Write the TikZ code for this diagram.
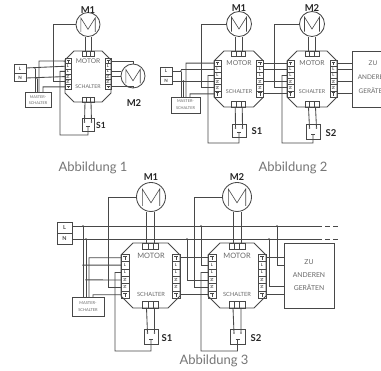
\documentclass[tikz,border=0pt]{standalone}
\usepackage{fontspec}
\setmainfont{Lato}
\definecolor{wire}{HTML}{484848}
\definecolor{soft}{HTML}{686868}
\definecolor{capt}{HTML}{767676}
\tikzset{
  wr/.style={draw=wire,line width=0.85pt,line join=miter},
  fine/.style={draw=wire,line width=0.55pt},
  panelbox/.style={draw=wire,line width=0.85pt,inner sep=0pt,fill=none},
  caption/.style={text=capt,font=\fontsize{13}{15}\selectfont,inner sep=0pt},
  lbl/.style={text=black!85,font=\fontsize{9.5}{11}\selectfont\bfseries,inner sep=0pt},
  inbox/.style={text=soft,inner sep=0pt,align=center},
  jdot/.style={fill=wire,draw=none,circle,minimum size=1.6pt,inner sep=0pt},
  motorc/.style={circle,draw=wire,line width=0.85pt,inner sep=0pt},
}
\newcommand{\ctrlbox}[9]{%
  \def\nm{#1}\def\xl{#2}\def\xr{#3}\def\yt{#4}\def\yb{#5}\def\ch{#6}\def\bw{#7}\def\bt{#8}\def\bb{#9}%
  \ctrlrest}
\newcommand{\ctrlrest}[2]{%
  \pgfmathsetmacro\cx{(\xl+\xr)/2}%
  \pgfmathsetmacro\dy{(\bb-\bt)/6}%
  \draw[wr] (\xl+\ch,\yt) -- (\xr-\ch,\yt) -- (\xr,\yt+\ch) -- (\xr,\yb-\ch) -- (\xr-\ch,\yb) -- (\xl+\ch,\yb) -- (\xl,\yb-\ch) -- (\xl,\yt+\ch) -- cycle;
  \foreach \i in {1,...,6}{%
    \pgfmathsetmacro\yy{\bt+(\i-0.5)*\dy}%
    \coordinate (\nm-L\i) at (\xl,\yy);
    \coordinate (\nm-R\i) at (\xr,\yy);
  }
  \foreach \bx in {\xl,\xr-\bw}{%
    \draw[fine] (\bx,\bt) rectangle (\bx+\bw,\bb);
    \foreach \i in {1,...,5}{\draw[fine] (\bx,\bt+\i*\dy) -- (\bx+\bw,\bt+\i*\dy);}
    \foreach \i/\tx/\rt in {2/L/0,3/L/0,4/N/90,5/N/90}{%
      \node[inner sep=0pt,text=wire,rotate=\rt,font=\fontsize{4}{4}\selectfont\bfseries] at (\bx+\bw/2,\bt+\i*\dy-\dy/2) {\tx};}
    \foreach \i in {1,6}{%
      \draw[fine] (\bx+\bw*0.25,\bt+\i*\dy-\dy*0.7) -- (\bx+\bw*0.75,\bt+\i*\dy-\dy*0.7) (\bx+\bw/2,\bt+\i*\dy-\dy*0.7) -- (\bx+\bw/2,\bt+\i*\dy-\dy*0.2);}
  }
  \foreach \by in {\yt,\yb-#2}{%
    \draw[fine] (\cx-#1,\by) rectangle (\cx+#1,\by+#2);
    \foreach \f in {-0.33,0.33}{\draw[fine] (\cx+\f*#1,\by) -- (\cx+\f*#1,\by+#2);}
  }
  \coordinate (\nm-T1) at (\cx-#1*0.5,\yt);
  \coordinate (\nm-T2) at (\cx+#1*0.5,\yt);
  \coordinate (\nm-B1) at (\cx-#1*0.5,\yb);
  \coordinate (\nm-B2) at (\cx+#1*0.5,\yb);
}
\newcommand{\motorsym}[4]{%
  \node[motorc,minimum size=#4*2pt] (#1) at (#2,#3) {};
  \draw[wr,line width=0.6pt] (#2-#4*0.6,#3+#4*0.62) -- (#2-#4*0.6,#3-#4*0.55) -- (#2,#3+#4*0.4) -- (#2+#4*0.6,#3-#4*0.55) -- (#2+#4*0.6,#3+#4*0.62);
}
\newcommand{\switchsym}[5]{%
  \node[panelbox,minimum width=#3pt-#2pt,minimum height=#5pt-#4pt] (#1) at ({(#2+#3)/2},{(#4+#5)/2}) {};
  \node[jdot] (#1-a) at ({(#2+#3)/2-3.5},#4+4) {};
  \node[jdot] (#1-b) at ({(#2+#3)/2+3.5},#4+4) {};
  \coordinate (#1-c) at ({(#2+#3)/2},#5-4);
  \draw[fine] ({(#2+#3)/2-2},#5-5) -- ({(#2+#3)/2+2},#5-5);
}
\begin{document}
\begin{tikzpicture}[x=1pt,y=-1pt]
\useasboundingbox[fill=white] (0,0) rectangle (381,371);
\clip (0,0) rectangle (381,371);

%%%%% Abbildung 1
\motorsym{am1}{88}{24.5}{12}
\motorsym{am2}{133}{76}{12}
\node[lbl] at (88,10) {M1};
\node[lbl] at (134,103) {M2};
\ctrlbox{a}{65}{111}{51}{102}{9}{6}{58.5}{89.5}{6}{5}
\node[inbox,font=\fontsize{6.6}{8}\selectfont] at (88,61.5) {MOTOR};
\node[inbox,font=\fontsize{5.2}{6}\selectfont] at (88,87) {SCHALTER};
\node[panelbox,minimum width=12pt,minimum height=17pt] (aln) at (20,72.5) {};
\draw[wr] (14,73) -- (26,73);
\node[text=wire,font=\fontsize{4.5}{5}\selectfont\bfseries,inner sep=0] at (20,68.5) {L};
\node[text=wire,font=\fontsize{4.5}{5}\selectfont\bfseries,inner sep=0] at (20,77.5) {N};
\node[panelbox,minimum width=26pt,minimum height=14.5pt,inbox,font=\fontsize{3.8}{6}\selectfont] (ams) at (38,100) {MASTER-\\SCHALTER};
\switchsym{as}{82}{94}{118}{131}
\node[lbl,font=\fontsize{8.5}{10}\selectfont\bfseries] at (101,125) {S1};
\draw[wr] (am1.west) -- (53,24.5) |- (a-L5);
\draw[wr] (a-T1) -- (a-T1 |- am1.south) (a-T2) -- (a-T2 |- am1.south);
\draw[wr] (a-B1) -- (as-a) (a-B2) -- (as-b);
\draw[wr] (26,68) -- (a-L2);
\draw[wr] (26,78) -- (a-L4);
\draw[wr] (a-L1) -- (39,61) -- (39,92.75);
\node[jdot] (ad1) at (35,68) {}; \node[jdot] (ad2) at (37,78) {};
\draw[wr] (ad1) -- (35,92.75) (ad2) -- (37,92.75);
\draw[wr] (a-L6) -- (43,86.9) -- (43,92.75);
\draw[wr] (a-L3) -- (60,71.4) -- (60,135) -- (88,135) -- (as-c);
\draw[wr] (a-R1) -| (am2.north);
\draw[wr] (a-R6) -| (am2.south);
\draw[wr] (a-R3) -- (am2.west |- a-R3);
\draw[wr] (a-R4) -- (am2.west |- a-R4);
\node[caption] at (93,168) {Abbildung 1};

%%%%% Abbildung 2
\motorsym{bm1}{239}{24}{12.5}
\motorsym{bm2}{312}{24}{12.5}
\node[lbl] at (239,8) {M1};
\node[lbl] at (312,8) {M2};
\ctrlbox{b}{214}{263.5}{51}{107}{10}{7}{60}{97}{7}{5.5}
\ctrlbox{c}{287}{337}{51}{107}{10}{7}{60}{97}{7}{5.5}
\foreach \x in {239,312}{%
  \node[inbox,font=\fontsize{6.8}{8}\selectfont] at (\x,63) {MOTOR};
  \node[inbox,font=\fontsize{5.4}{6}\selectfont] at (\x,92) {SCHALTER};}
\node[panelbox,minimum width=12pt,minimum height=17pt] (bln) at (166,75.5) {};
\draw[wr] (160,76) -- (172,76);
\node[text=wire,font=\fontsize{4.5}{5}\selectfont\bfseries,inner sep=0] at (166,71) {L};
\node[text=wire,font=\fontsize{4.5}{5}\selectfont\bfseries,inner sep=0] at (166,80.5) {N};
\node[panelbox,minimum width=29pt,minimum height=16pt,inbox,font=\fontsize{3.9}{7}\selectfont] (bms) at (185.5,105) {MASTER-\\SCHALTER};
\switchsym{bs}{232}{246}{124}{137}
\switchsym{cs}{306}{320}{124}{139}
\node[lbl] at (257,131) {S1};
\node[lbl] at (331,133) {S2};
\node[panelbox,minimum width=60pt,minimum height=56pt] (bzu) at (382,79) {};
\node[inbox,font=\fontsize{6.4}{8}\selectfont] at (373,63) {ZU};
\node[inbox,font=\fontsize{6.4}{8}\selectfont] at (373,77) {ANDEREN};
\node[inbox,font=\fontsize{6.4}{8}\selectfont] at (373,91) {GERÄTEN};
\foreach \n/\m/\s in {b/bm1/bs,c/bm2/cs}{%
  \draw[wr] (\n-T1) -- (\n-T1 |- \m.south) (\n-T2) -- (\n-T2 |- \m.south);
  \draw[wr] (\n-B1) -- (\s-a) (\n-B2) -- (\s-b);}
\draw[wr] (172,71) -- (181,71);
\draw[wr] (172,81) -- (183.5,81);
\draw[wr] (b-L1) -- (186,63.1) -- (186,97);
\node[jdot] (bd1) at (181,71) {}; \node[jdot] (bd2) at (183.5,81) {};
\draw[wr] (bd1) |- (b-L2) (bd1) -- (181,97) (bd2) |- (b-L4) (bd2) -- (183.5,97);
\draw[wr] (b-L6) -- (190,93.9) -- (190,97);
\draw[wr] (bm1.west) -- (201.5,24) |- (b-L5);
\draw[wr] (b-L3) -- (208,75.5) -- (208,143) -- (239,143) -- (bs-c);
\foreach \i in {1,2,4,6}{\draw[wr] (b-R\i) -- (c-L\i); \draw[wr] (c-R\i) -- (c-R\i -| bzu.west);}
\draw[wr] (bm2.west) -- (274.5,24) |- (c-L5);
\draw[wr] (c-L3) -- (282,75.5) -- (282,143) -- (313,143) -- (cs-c);
\node[caption] at (293,168) {Abbildung 2};

%%%%% Abbildung 3
\motorsym{dm1}{151}{197}{14.5}
\motorsym{dm2}{237}{197}{14.5}
\node[lbl] at (151,177) {M1};
\node[lbl] at (237,177) {M2};
\ctrlbox{d}{121}{180}{243}{308}{12}{8}{254}{298.5}{8}{6.5}
\ctrlbox{e}{208}{266}{243}{308}{12}{8}{254}{298.5}{8}{6.5}
\foreach \x in {151,237}{%
  \node[inbox,font=\fontsize{7.4}{8}\selectfont] at (\x,256) {MOTOR};
  \node[inbox,font=\fontsize{5.7}{6}\selectfont] at (\x,294) {SCHALTER};}
\node[panelbox,minimum width=15pt,minimum height=22pt] (dln) at (64.5,233) {};
\draw[wr] (57,233) -- (72,233);
\node[text=wire,font=\fontsize{5.5}{6}\selectfont\bfseries,inner sep=0] at (64.5,227.5) {L};
\node[text=wire,font=\fontsize{5.5}{6}\selectfont\bfseries,inner sep=0] at (64.5,238.5) {N};
\node[panelbox,minimum width=32pt,minimum height=19pt,inbox,font=\fontsize{4}{7.2}\selectfont] (dms) at (88,306.5) {MASTER-\\SCHALTER};
\switchsym{ds}{144}{158}{329}{344}
\switchsym{es}{230}{245}{329}{344}
\node[lbl] at (167,338) {S1};
\node[lbl] at (256,338) {S2};
\node[panelbox,minimum width=50pt,minimum height=65pt] (dzu) at (309,275.5) {};
\node[inbox,font=\fontsize{6.8}{8}\selectfont] at (309,262) {ZU};
\node[inbox,font=\fontsize{6.8}{8}\selectfont] at (309,275) {ANDEREN};
\node[inbox,font=\fontsize{6.8}{8}\selectfont] at (309,288) {GERÄTEN};
\coordinate (lend) at (317,226); \coordinate (nend) at (317,239);
\draw[wr] (dln.east |- lend) -- (lend);
\draw[wr] (dln.east |- nend) -- (nend);
\draw[wr,dash pattern=on 5pt off 3pt] (lend) -- ++(21,0);
\draw[wr,dash pattern=on 5pt off 3pt] (nend) -- ++(21,0);
\foreach \n/\m/\s in {d/dm1/ds,e/dm2/es}{%
  \draw[wr] (\n-T1) -- (\n-T1 |- \m.south) (\n-T2) -- (\n-T2 |- \m.south);
  \draw[wr] (\n-B1) -- (\s-a) (\n-B2) -- (\s-b);}
\node[jdot] (dd1) at (83,226) {}; \node[jdot] (dd2) at (86,239) {};
\draw[wr] (dd1) -- (83,297) (dd2) -- (86,297);
\draw[wr] (d-L1) -- (89,257.7) -- (89,297);
\draw[wr] (d-L6) -- (93,294.8) -- (93,297);
\node[jdot] (dd3) at (83,265.1) {}; \node[jdot] (dd4) at (86,279.9) {};
\draw[wr] (dd3) -- (d-L2);
\draw[wr] (dd4) -- (d-L4);
\draw[wr] (dm1.west) -- (108,197) |- (d-L5);
\draw[wr] (d-L3) -- (115,272.5) -- (115,351) -- (151,351) -- (ds-c);
\draw[wr] (d-R1) -- (e-L1);
\draw[wr] (d-R6) -- (e-L6);
\node[jdot] (ed1) at (201,226) {}; \node[jdot] (ed2) at (187,239) {};
\draw[wr] (ed1) |- (e-L2);
\draw[wr] (ed2) |- (e-L4);
\draw[wr] (dm2.west) -- (194,197) |- (e-L5);
\draw[wr] (e-L3) -- (201,272.5) -- (201,351) -- (237.5,351) -- (es-c);
\draw[wr] (e-R1) -- (e-R1 -| dzu.west);
\draw[wr] (e-R6) -- (e-R6 -| dzu.west);
\node[jdot] (ed3) at (277,226) {}; \node[jdot] (ed4) at (269,239) {};
\coordinate (zin1) at (284,265); \coordinate (zin2) at (284,286);
\draw[wr] (ed3) |- (zin1);
\draw[wr] (ed4) |- (zin2);
\node[caption] at (214,361) {Abbildung 3};
\end{tikzpicture}
\end{document}
